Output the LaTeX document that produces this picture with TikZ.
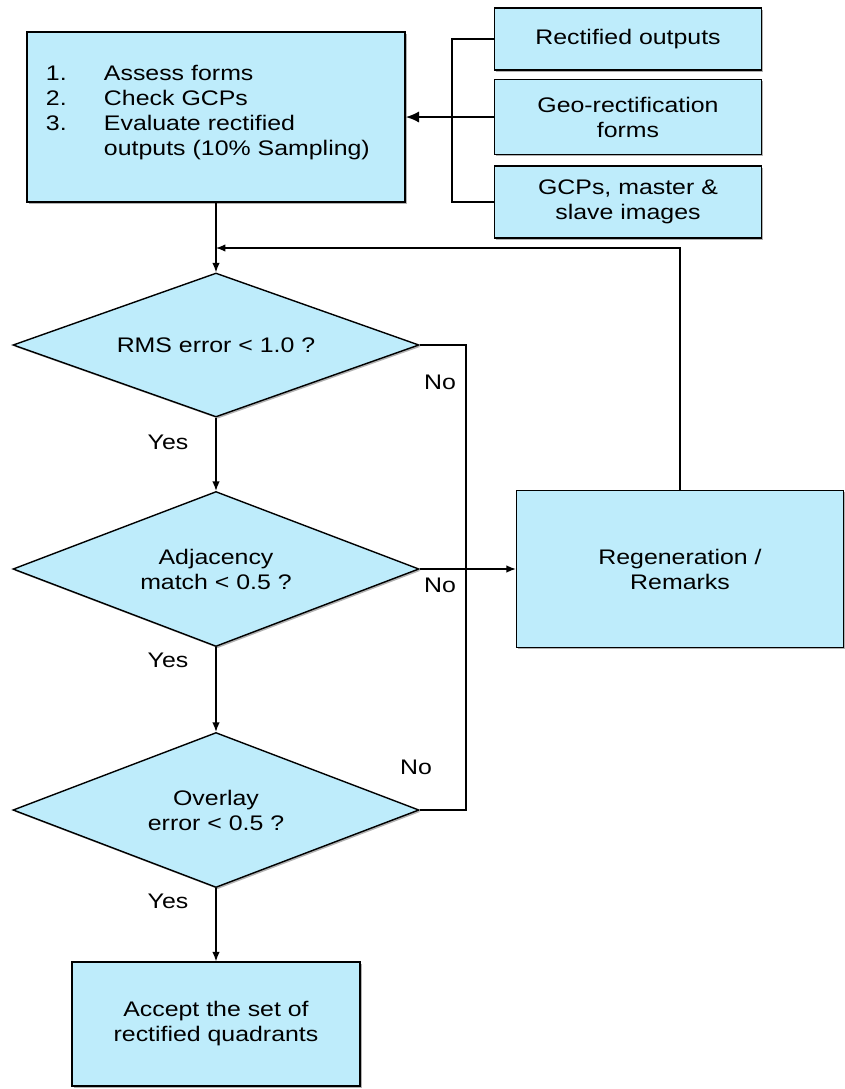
\documentclass[tikz,border=0pt]{standalone}
\usepackage{fontspec}
\setmainfont{Liberation Sans}[FakeStretch=1.18]
\usetikzlibrary{shapes.geometric,shadows,arrows.meta}
\definecolor{boxblue}{RGB}{190,236,251}
\begin{document}
\begin{tikzpicture}[x=0.03cm,y=-0.03cm,>={Latex[length=2.8mm,width=2.2mm]},line width=1pt,
  main node/.style={rectangle,draw,fill=boxblue,line width=1.2pt,font=\fontsize{18}{21.3}\selectfont,align=center,inner sep=0pt,
    drop shadow={shadow xshift=1.5pt,shadow yshift=-1.5pt,fill=black!30,opacity=1}},
  test node/.style={main node,diamond,aspect=2.6,minimum width=12.18cm,minimum height=4.65cm},
  label node/.style={font=\fontsize{18}{21}\selectfont}]
  \useasboundingbox (0,0) rectangle (845,1089);
  \node[main node,align=left,text width=10.2cm,minimum width=11.34cm,minimum height=5.1cm] (1) at (216,117)
    {\begin{tabular}{@{}p{1.74cm}@{}l@{}}1.&Assess forms\\2.&Check GCPs\\3.&Evaluate rectified\\&outputs (10\% Sampling)\end{tabular}\vspace{0.25cm}};
  \node[main node,minimum width=8.01cm,minimum height=1.86cm] (2) at (628,39) {Rectified outputs};
  \node[main node,minimum width=8.01cm,minimum height=2.25cm] (3) at (628,117) {Geo-rectification\\forms};
  \node[main node,minimum width=8.01cm,minimum height=2.16cm] (4) at (628,202) {GCPs, master \&\\slave images};
  \node[test node,minimum height=4.32cm] (5) at (216,345) {RMS error < 1.0 ?};
  \node[test node] (6) at (216,569) {Adjacency\\match < 0.5 ?};
  \node[test node] (7) at (216,810) {Overlay\\error < 0.5 ?};
  \node[main node,minimum width=8.64cm,minimum height=3.72cm] (8) at (216,1024) {Accept the set of\\rectified quadrants};
  \node[main node,minimum width=9.81cm,minimum height=4.71cm] (9) at (680,569) {Regeneration /\\Remarks};
  \coordinate (in) at (452,117);
  \coordinate (back) at (216,248);
  \coordinate (no) at (466,345);
  % inputs
  \draw (2.west) -| (in) |- (4.west);
  \draw (3.west) -- (in);
  \draw[-{Latex[length=4mm,width=3.4mm]},line width=1.8pt] (in) -- (1.east);
  % main flow
  \draw[->] (1.south) -- (5.north);
  \draw[->] (5.south) -- (6.north);
  \draw[->] (6.south) -- (7.north);
  \draw[->] (7.south) -- (8.north);
  % no branches and feedback
  \draw (5.east) -| (no) |- (7.east);
  \draw[->] (6.east) -- (9.west);
  \draw[->] (9.north) |- (back);
  \node[label node] (y1) at (168,442) {Yes};
  \node[label node] (y2) at (168,660) {Yes};
  \node[label node] (y3) at (168,901) {Yes};
  \node[label node] (n1) at (440,382) {No};
  \node[label node] (n2) at (440,585) {No};
  \node[label node] (n3) at (416,767) {No};
\end{tikzpicture}
\end{document}
